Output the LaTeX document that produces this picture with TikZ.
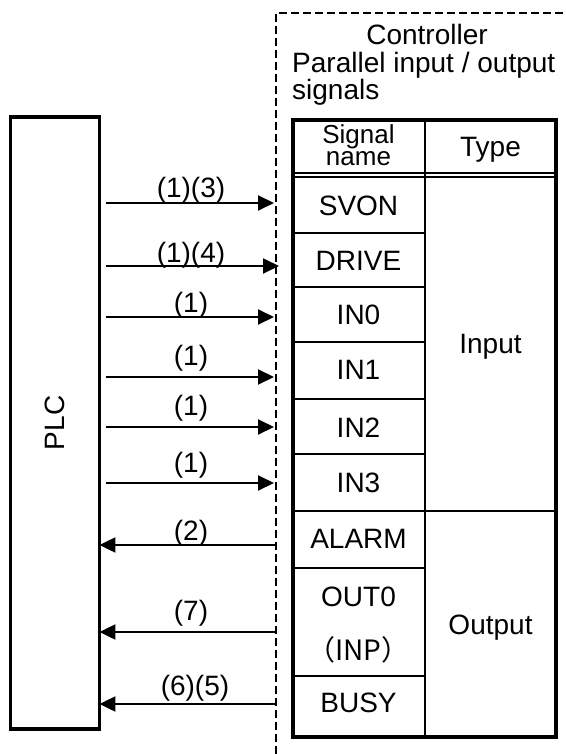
\documentclass[tikz,border=0pt]{standalone}
\usepackage{fontspec}
\setmainfont{Liberation Sans}
\newfontfamily\cjk{Noto Sans CJK JP}
\usetikzlibrary{arrows.meta}
\tikzset{
  txt/.style={inner sep=0pt, anchor=base, font=\fontsize{28}{28}\selectfont},
  lbl/.style={inner sep=0pt, anchor=base, font=\fontsize{28}{28}\selectfont},
  arr/.style={line width=2pt, -{Triangle[length=16pt,width=15pt]}},
  outer/.style={line width=3.4pt},
  inner/.style={line width=2.2pt},
  dashline/.style={line width=1.4pt, dash pattern=on 8pt off 4pt},
}
\begin{document}
\begin{tikzpicture}[x=1pt,y=-1pt]
\useasboundingbox (0,0) rectangle (565,754);
% dashed controller boundary
\coordinate (dbot) at (276,754);
\coordinate (dtop) at (276,13);
\coordinate (dright) at (565,13);
\draw[dashline] (dbot) -- (dtop) -- (dright);
% controller title
\node[txt] (ctrl) at (427,45) {Controller};
\node[txt, anchor=base west, align=left, font=\fontsize{28}{25}\selectfont] (par) at (292,100) {Parallel input / output\\signals};
% PLC box
\node[draw, outer, minimum width=88.6pt, minimum height=611.7pt, inner sep=0pt] (plc) at (55,423) {};
\node[rotate=90, inner sep=0pt, font=\fontsize{28}{28}\selectfont] (plctxt) at (plc.center) {PLC};
% table grid
\draw[inner] (425,120) -- (425,737);
\draw[line width=1.8pt] (293,173.3) -- (556,173.3);
\draw[line width=1.8pt] (293,177.3) -- (556,177.3);
\foreach \yy in {233,287,342,399,454,568,676}{
  \draw[inner] (293,\yy) -- (425,\yy);
}
\draw[inner] (293,511) -- (556,511);
\draw[outer] (293,120) rectangle (556,737);
% table text
\node[txt, align=center, font=\fontsize{26}{22.5}\selectfont] (hsig) at (358.5,166) {Signal\\name};
\node[txt] (htype) at (490.5,157) {Type};
\node[txt] (svon) at (358.5,215) {SVON};
\node[txt] (drive) at (358.5,270) {DRIVE};
\node[txt] (in0) at (358.5,324) {IN0};
\node[txt] (in1) at (358.5,379) {IN1};
\node[txt] (in2) at (358.5,437) {IN2};
\node[txt] (in3) at (358.5,492) {IN3};
\node[txt] (alarm) at (358.5,548) {ALARM};
\node[txt] (out0) at (358.5,606) {OUT0};
\node[txt] (inp) at (358.5,660) {\cjk{（}INP\cjk{）}};
\node[txt] (busy) at (358.5,712) {BUSY};
\node[txt] (input) at (490.5,353) {Input};
\node[txt] (output) at (490.5,634) {Output};
% connector end points on the dashed line
\coordinate (t1) at (274,203);
\coordinate (t2) at (279,266);
\coordinate (t3) at (274,317);
\coordinate (t4) at (274,377);
\coordinate (t5) at (274,427);
\coordinate (t6) at (274,483);
\coordinate (s1) at (276,545);
\coordinate (s2) at (276,632);
\coordinate (s3) at (276,704);
% input arrows
\foreach \c in {t1,t2,t3,t4,t5,t6}{
  \draw[arr] ([xshift=4.5pt]plc.east |- \c) -- (\c);
}
% output arrows
\foreach \c in {s1,s2,s3}{
  \draw[arr, shorten >=-1.6pt] (\c) -- (plc.east |- \c);
}
% labels
\node[lbl] (l1) at (191,197) {(1)(3)};
\node[lbl] (l2) at (191,262) {(1)(4)};
\node[lbl] (l3) at (191,312) {(1)};
\node[lbl] (l4) at (191,365) {(1)};
\node[lbl] (l5) at (191,415) {(1)};
\node[lbl] (l6) at (191,472) {(1)};
\node[lbl] (l7) at (191,540) {(2)};
\node[lbl] (l8) at (191,620) {(7)};
\node[lbl] (l9) at (195,695) {(6)(5)};
\end{tikzpicture}
\end{document}
